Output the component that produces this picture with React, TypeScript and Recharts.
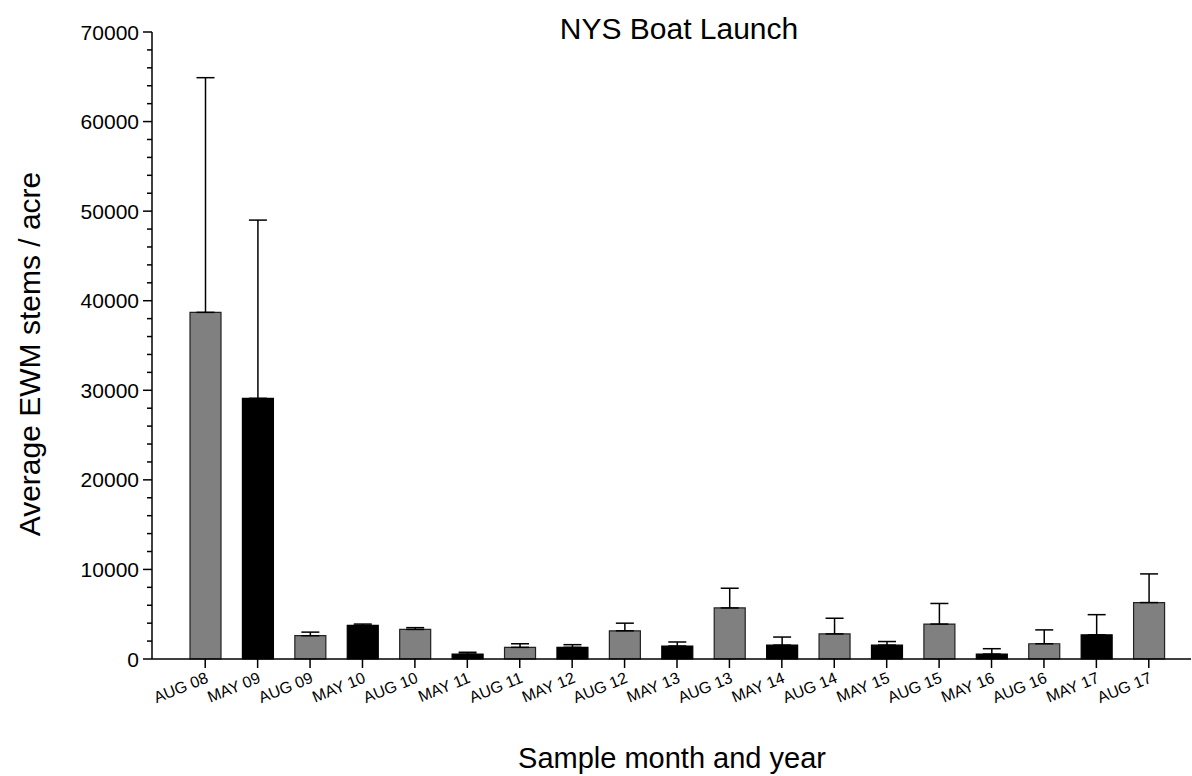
import { Bar, BarChart, Cell, ErrorBar, XAxis, YAxis } from "recharts";

// Sampling dates (month + two-digit year)
const SAMPLES = [
  "AUG 08", "MAY 09", "AUG 09", "MAY 10", "AUG 10", "MAY 11", "AUG 11",
  "MAY 12", "AUG 12", "MAY 13", "AUG 13", "MAY 14", "AUG 14", "MAY 15",
  "AUG 15", "MAY 16", "AUG 16", "MAY 17", "AUG 17",
];

// Mean EWM stems per acre
const MEANS = [
  38700, 29100, 2600, 3750, 3300, 550, 1300, 1300, 3150, 1450, 5700,
  1550, 2800, 1550, 3900, 550, 1700, 2700, 6300,
];

// Top of the upper error whisker
const UPPER = [
  64900, 49000, 3000, 3900, 3500, 750, 1700, 1600, 4000, 1900, 7900,
  2450, 4550, 1950, 6200, 1150, 3250, 4950, 9500,
];

const Y_MAJOR = [0, 10000, 20000, 30000, 40000, 50000, 60000, 70000];
const Y_TICKS = Array.from({ length: 36 }, (_, i) => i * 2000);

const FONT = "'Liberation Sans', Arial, sans-serif";

const data = SAMPLES.map((name, i) => ({
  name,
  mean: MEANS[i],
  err: [0, UPPER[i] - MEANS[i]],
}));

// left axis: long ticks + labels every 10000, short ticks every 2000
function YTick({ x, y, payload }: any) {
  const major = Y_MAJOR.includes(payload.value);
  return (
    <g>
      <line x1={x - (major ? 9 : 5)} x2={x} y1={y} y2={y} stroke="#000" strokeWidth={1.5} />
      {major && (
        <text x={x - 13} y={y} dy="0.36em" textAnchor="end" fontSize={21} fill="#000" fontFamily={FONT}>
          {payload.value}
        </text>
      )}
    </g>
  );
}

// slanted category labels under outward ticks
function XTick({ x, y, payload }: any) {
  return (
    <g>
      <line x1={x} x2={x} y1={y} y2={y + 9} stroke="#000" strokeWidth={1.5} />
      <text
        x={x + 4}
        y={y + 23}
        textAnchor="end"
        fontSize={16}
        fill="#000"
        fontFamily={FONT}
        transform={`rotate(-22 ${x + 4} ${y + 23})`}
      >
        {payload.value}
      </text>
    </g>
  );
}

export default function App() {
  return (
    <div style={{ position: "absolute", left: 0, top: 0, width: 1192, height: 776, background: "#fff", fontFamily: FONT }}>
      <BarChart width={1192} height={776} data={data} margin={{ top: 32, right: 1, bottom: 87, left: 92 }}>
        <XAxis
          dataKey="name"
          ticks={SAMPLES}
          interval={0}
          padding={{ left: 27, right: 16 }}
          axisLine={{ stroke: "#000", strokeWidth: 1.5 }}
          tickLine={false}
          tickSize={0}
          tickMargin={0}
          height={30}
          tick={<XTick />}
        />
        <YAxis
          domain={[0, 70000]}
          ticks={Y_TICKS}
          interval={0}
          width={60}
          axisLine={{ stroke: "#000", strokeWidth: 1.5 }}
          tickLine={false}
          tickSize={0}
          tickMargin={0}
          tick={<YTick />}
        />
        <Bar dataKey="mean" barSize={31} isAnimationActive={false}>
          {data.map((d) => (
            <Cell
              key={d.name}
              fill={d.name.startsWith("MAY") ? "#000000" : "#808080"}
              stroke={d.name.startsWith("MAY") ? "#000000" : "#222222"}
              strokeWidth={1.2}
            />
          ))}
          <ErrorBar dataKey="err" width={9} stroke="#000" strokeWidth={1.5} isAnimationActive={false} />
        </Bar>
      </BarChart>
      <div style={{ position: "absolute", top: 12, left: 429, width: 500, textAlign: "center", fontSize: 30, lineHeight: "34px", color: "#000" }}>
        NYS Boat Launch
      </div>
      <div style={{ position: "absolute", top: 741, left: 422, width: 500, textAlign: "center", fontSize: 29, lineHeight: "34px", color: "#000" }}>
        Sample month and year
      </div>
      <div
        style={{
          position: "absolute",
          left: 30,
          top: 354,
          width: 500,
          marginLeft: -250,
          marginTop: -17,
          textAlign: "center",
          fontSize: 30,
          lineHeight: "34px",
          color: "#000",
          transform: "rotate(-90deg)",
        }}
      >
        Average EWM stems / acre
      </div>
    </div>
  );
}
